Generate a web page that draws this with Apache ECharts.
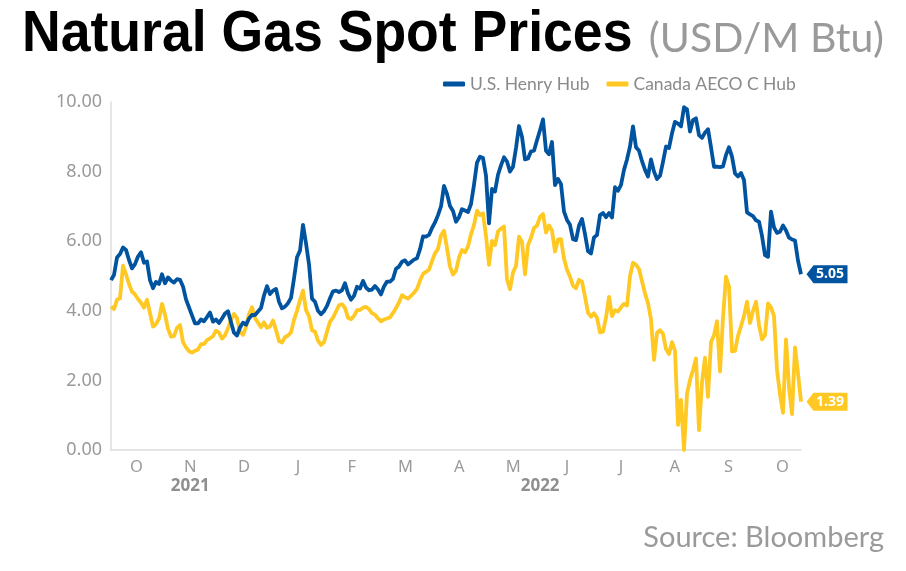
<!DOCTYPE html>
<html>
<head>
<meta charset="utf-8">
<script src="https://cdn.jsdelivr.net/npm/echarts@6/dist/echarts.min.js"></script>
<style>
html,body{margin:0;padding:0;background:#fff;}
#c{width:906px;height:571px;}
</style>
</head>
<body>
<div id="c"></div>
<script>
// Month tick labels (centered on each month) and year labels
const monthLabels = ['O','N','D','J','F','M','A','M','J','J','A','S','O'];
const yearLabels = ['2021','2022'];
const yearLabelAt = [1.5, 8];  // in months from 1 Oct 2021 (center of each year's month group)
const monthSpan = 12.846;      // months covered by the plot (1 Oct 2021 .. ~26 Oct 2022)

// Series values, sampled evenly from early Oct 2021 to late Oct 2022 (USD/M Btu)
const henryHub = [
4.88,5.03,5.53,5.63,5.82,5.75,5.46,5.22,5.34,5.56,
5.68,5.38,5.42,4.88,4.65,4.83,4.77,5.05,4.79,4.96,
4.87,4.81,4.91,4.89,4.70,4.33,4.10,3.87,3.64,3.64,
3.75,3.70,3.82,3.95,3.69,3.75,3.65,3.78,3.92,3.99,
3.67,3.37,3.29,3.52,3.66,3.60,3.78,3.88,3.88,3.98,
4.08,4.44,4.71,4.48,4.58,4.63,4.26,4.07,4.12,4.22,
4.37,4.93,5.54,5.73,6.47,5.94,5.34,4.35,4.26,4.00,
3.90,3.99,4.14,4.36,4.56,4.58,4.54,4.59,4.79,4.50,
4.32,4.43,4.69,4.64,4.86,4.67,4.59,4.61,4.71,4.61,
4.47,4.70,4.84,4.84,4.92,5.21,5.27,5.41,5.45,5.33,
5.40,5.47,5.51,5.77,6.14,6.13,6.18,6.38,6.54,6.75,
7.00,7.59,7.36,7.01,6.87,6.56,6.69,
6.92,6.88,6.84,7.07,7.62,8.26,8.43,8.39,7.88,6.51,
7.50,7.43,7.91,8.18,8.41,8.29,8.00,8.14,8.68,9.31,
9.00,8.35,8.38,8.58,8.60,8.90,9.19,9.50,8.60,8.50,
8.85,7.61,7.79,7.64,6.85,6.61,6.47,6.06,6.03,6.45,
6.64,6.20,5.71,5.65,6.11,6.18,6.75,6.81,6.69,6.81,
6.68,7.55,7.45,7.62,8.05,8.35,8.72,9.30,8.70,8.60,
8.30,8.05,7.86,8.35,8.00,7.79,7.88,8.28,8.72,8.68,
9.10,9.43,9.38,9.30,9.85,9.79,9.15,9.48,9.53,9.05,
8.97,9.12,9.22,8.70,8.14,8.14,8.13,8.15,8.48,8.70,
8.43,7.95,7.86,7.96,7.76,6.83,6.77,6.72,6.60,6.56,
6.15,5.60,5.55,6.85,6.40,6.24,6.27,6.45,6.31,6.10,
6.05,6.02,5.44,5.05
];
const aecoC = [
4.12,4.05,4.32,4.36,5.30,5.05,4.77,4.55,4.47,4.34,
4.23,4.09,4.32,3.93,3.55,3.62,3.77,4.20,3.89,3.48,
3.26,3.27,3.51,3.59,3.10,2.95,2.84,2.80,2.85,2.89,
3.04,3.04,3.16,3.21,3.27,3.43,3.37,3.20,3.30,3.50,
3.73,3.91,3.79,3.40,3.31,3.53,3.90,4.10,3.79,3.66,
3.53,3.67,3.51,3.55,3.72,3.45,3.13,3.09,3.24,3.29,
3.38,3.74,4.00,4.30,4.58,4.02,3.85,3.44,3.40,3.14,
3.02,3.10,3.40,3.69,3.80,3.98,4.16,4.19,4.08,3.80,
3.76,3.85,4.02,4.02,4.09,4.11,4.05,3.93,3.89,3.78,
3.70,3.75,3.78,3.81,3.94,4.08,4.24,4.45,4.39,4.35,
4.43,4.52,4.63,4.87,5.06,5.12,5.18,5.43,5.65,5.78,
6.17,6.30,5.80,5.27,5.04,5.15,5.53,
5.75,5.68,5.85,6.20,6.47,6.88,6.75,6.80,6.15,5.32,
6.01,5.89,6.28,6.36,6.42,4.90,4.62,5.10,5.29,6.13,
5.98,5.05,5.89,6.10,6.38,6.45,6.70,6.78,6.25,6.45,
6.30,5.70,6.05,6.06,5.50,5.18,4.98,4.72,4.65,4.89,
4.84,4.41,3.95,3.83,3.93,3.80,3.38,3.40,3.80,4.40,
3.85,4.02,3.98,4.10,4.20,4.15,5.00,5.38,5.32,5.20,
4.85,4.50,4.22,3.75,2.59,3.37,3.44,3.34,2.90,2.76,
3.10,2.85,0.72,1.44,0.00,1.62,2.01,2.30,2.63,0.57,
1.95,2.65,1.53,3.10,3.30,3.70,2.25,3.80,4.98,4.70,
2.83,2.85,3.28,3.56,3.85,4.26,3.65,4.00,4.26,3.59,
3.18,3.30,4.21,4.10,3.85,2.30,1.60,1.07,3.18,1.80,
1.03,2.95,2.20,1.39
];
const seriesNames = ['U.S. Henry Hub','Canada AECO C Hub'];
const seriesColors = ['#00539F','#FFC823'];

const categories = henryHub.map((_, i) => i);

function endTag(values, color) {
  const last = values.length - 1;
  return {
    symbol: 'path://M0,9 L7,0 L41,0 L41,18 L7,18 Z',
    symbolSize: [41, 18],
    symbolOffset: [26, 0],
    silent: true,
    itemStyle: { color: color },
    label: {
      show: true, position: 'inside', offset: [3, 0],
      color: '#fff', fontWeight: 'bold', fontSize: 14, fontFamily: 'Noto Sans',
      formatter: p => Number(p.value).toFixed(2)
    },
    data: [{ coord: [last, values[last]], value: values[last] }]
  };
}

const chart = echarts.init(document.getElementById('c'));
chart.setOption({
  animation: false,
  backgroundColor: '#fff',
  graphic: [
    { type: 'text', x: 22, y: 35, scaleX: 0.94, silent: true,
      style: { text: 'Natural Gas Spot Prices', x: 0, y: 0,
        font: 'bold 57px "Liberation Sans", Arial, sans-serif',
        fill: '#000', textAlign: 'left', textVerticalAlign: 'middle' } }
  ],
  title: [
    { text: '(USD/M Btu)', right: 22, top: 18, padding: 0,
      textStyle: { fontFamily: 'Lato', fontWeight: 'normal', fontSize: 41, color: '#9a9a9a' } },
    { text: 'Source: Bloomberg', right: 22, top: 523, padding: 0,
      textStyle: { fontFamily: 'Lato', fontWeight: 'normal', fontSize: 29, color: '#9a9a9a' } }
  ],
  legend: {
    left: 443, top: 75, padding: 0,
    icon: 'roundRect', itemWidth: 22, itemHeight: 5, itemGap: 17,
    textStyle: { color: '#8a8a8a', fontSize: 17.5, fontFamily: 'Lato' },
    data: seriesNames
  },
  grid: [
    { left: 111, top: 102, width: 690, height: 348 },
    { left: 109.5, top: 102, width: 691.5, height: 348 }
  ],
  xAxis: [
    { type: 'category', gridIndex: 0, data: categories, boundaryGap: false,
      axisLine: { lineStyle: { color: '#dddddd', width: 1.5 } },
      axisTick: { show: false }, axisLabel: { show: false }, splitLine: { show: false } },
    { type: 'value', gridIndex: 1, position: 'bottom', min: 0, max: monthSpan, interval: 0.5,
      axisLine: { show: false }, axisTick: { show: false }, splitLine: { show: false },
      axisLabel: { margin: 8.5, color: '#9a9a9a', fontSize: 16.5, fontFamily: 'Noto Sans',
        showMinLabel: true, showMaxLabel: true,
        formatter: v => { const k = Math.round(v - 0.5); return Math.abs(v - 0.5 - k) < 1e-6 && monthLabels[k] ? monthLabels[k] : ''; } } },
    { type: 'value', gridIndex: 1, position: 'bottom', min: 0, max: monthSpan, interval: 0.5, offset: 22,
      axisLine: { show: false }, axisTick: { show: false }, splitLine: { show: false },
      axisLabel: { margin: 5.5, color: '#8f8f8f', fontSize: 17, fontWeight: 'bold', fontFamily: 'Noto Sans',
        formatter: v => { const j = yearLabelAt.findIndex(a => Math.abs(a - v) < 1e-6); return j >= 0 ? yearLabels[j] : ''; } } }
  ],
  yAxis: [
    { type: 'value', gridIndex: 0, min: 0, max: 10, interval: 2,
      axisLine: { show: true, lineStyle: { color: '#dddddd', width: 1.5 } },
      axisTick: { show: false }, splitLine: { show: false },
      axisLabel: { margin: 9, color: '#9a9a9a', fontSize: 18, fontFamily: 'Noto Sans',
        formatter: v => v.toFixed(2) } },
    { type: 'value', gridIndex: 1, min: 0, max: 10, show: false }
  ],
  series: [
    { name: seriesNames[0], type: 'line', data: henryHub, showSymbol: false, symbol: 'none',
      xAxisIndex: 0, yAxisIndex: 0, z: 3, color: seriesColors[0],
      lineStyle: { width: 3.8, color: seriesColors[0], join: 'round' },
      markPoint: endTag(henryHub, seriesColors[0]) },
    { name: seriesNames[1], type: 'line', data: aecoC, showSymbol: false, symbol: 'none',
      xAxisIndex: 0, yAxisIndex: 0, z: 2, color: seriesColors[1],
      lineStyle: { width: 3.8, color: seriesColors[1], join: 'round' },
      markPoint: endTag(aecoC, seriesColors[1]) }
  ]
});
</script>
</body>
</html>
